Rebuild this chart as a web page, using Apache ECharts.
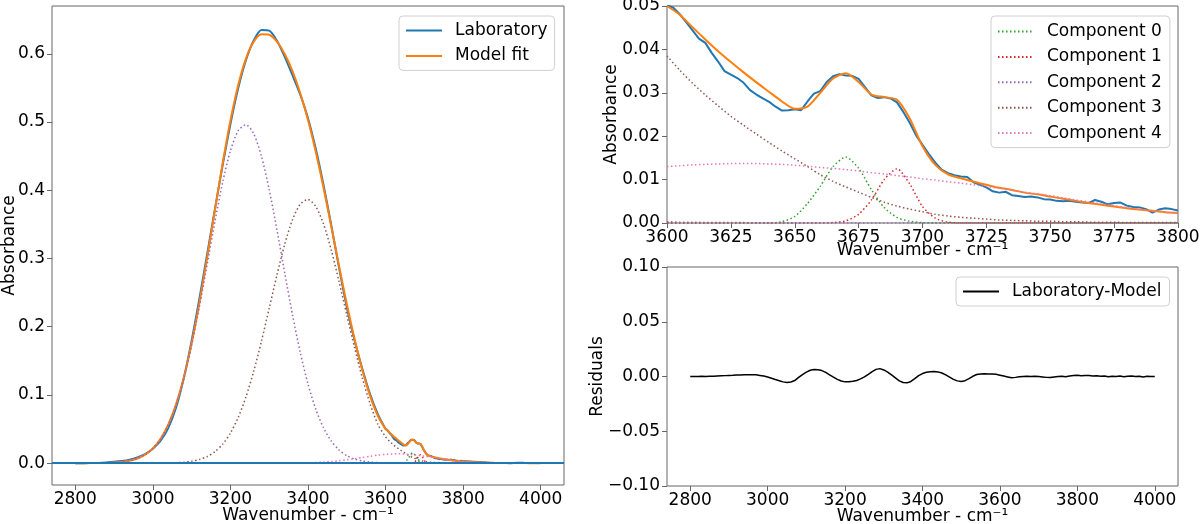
<!DOCTYPE html>
<html><head><meta charset="utf-8">
<script src="https://cdn.jsdelivr.net/npm/echarts@6/dist/echarts.min.js"></script>
<style>html,body{margin:0;padding:0;background:#fff}#c{width:1200px;height:524px}</style>
</head><body><div id="c"></div>
<script>
// ---------- wide-range data (left panel), step 20, gap 3600-3800 filled by fine data ----------
const wnWide = [2800,2820,2840,2860,2880,2900,2920,2940,2960,2980,3000,3020,3040,3060,3080,3100,3120,3140,3160,3180,3200,3220,3240,3260,3280,3300,3320,3340,3360,3380,3400,3420,3440,3460,3480,3500,3520,3540,3560,3580,3820,3840,3860,3880,3900,3920,3940,3960,3980,4000];
const labWide = [0.0000,0.0000,0.0002,0.0004,0.0010,0.0019,0.0031,0.0051,0.0085,0.0134,0.0211,0.0329,0.0519,0.0815,0.1250,0.1795,0.2410,0.3064,0.3723,0.4369,0.4971,0.5496,0.5907,0.6195,0.6350,0.6339,0.6192,0.5956,0.5686,0.5402,0.5056,0.4608,0.4079,0.3486,0.2865,0.2286,0.1800,0.1383,0.1011,0.0717,0.0026,0.0016,0.0010,0.0003,0.0003,-0.0001,0.0006,0.0004,0.0002,0.0001];
const modelWide = [0.0000,0.0000,0.0001,0.0002,0.0004,0.0009,0.0018,0.0036,0.0069,0.0124,0.0216,0.0357,0.0568,0.0865,0.1258,0.1755,0.2346,0.3010,0.3708,0.4395,0.5020,0.5540,0.5929,0.6175,0.6285,0.6279,0.6177,0.5996,0.5744,0.5422,0.5029,0.4564,0.4037,0.3471,0.2891,0.2332,0.1820,0.1365,0.0987,0.0695,0.0017,0.0012,0.0008,0.0005,0.0003,0.0002,0.0001,0.0001,0.0000,0.0000];
const comp0Wide = [0,0,0,0,0,0,0,0,0,0,0,0,0,0,0,0,0,0,0,0,0,0,0,0,0,0,0,0,0,0,0,0,0,0,0,0,0,0,0,0,0,0,0,0,0,0,0,0,0,0];
const comp1Wide = [0,0,0,0,0,0,0,0,0,0,0,0,0,0,0,0,0,0,0,0,0,0,0,0,0,0,0,0,0,0,0,0,0,0,0,0,0,0,0,0,0,0,0,0,0,0,0,0,0,0];
const comp2Wide = [0.0000,0.0000,0.0001,0.0002,0.0004,0.0009,0.0018,0.0036,0.0069,0.0124,0.0215,0.0356,0.0565,0.0858,0.1244,0.1727,0.2293,0.2913,0.3540,0.4117,0.4579,0.4872,0.4960,0.4829,0.4498,0.4009,0.3417,0.2787,0.2174,0.1623,0.1159,0.0792,0.0517,0.0323,0.0193,0.0111,0.0061,0.0032,0.0016,0.0008,0,0,0,0,0,0,0,0,0,0];
const comp3Wide = [0,0,0,0,0,0,0,0,0,0,0.0001,0.0001,0.0003,0.0007,0.0014,0.0028,0.0053,0.0097,0.0168,0.0278,0.0441,0.0668,0.0969,0.1346,0.1787,0.2270,0.2759,0.3208,0.3568,0.3796,0.3865,0.3763,0.3505,0.3124,0.2663,0.2172,0.1694,0.1250,0.0870,0.0570,0.0001,0.0001,0,0,0,0,0,0,0,0];
const comp4Wide = [0,0,0,0,0,0,0,0,0,0,0,0,0,0,0,0,0,0,0,0,0,0,0,0,0,0.0000,0.0001,0.0001,0.0002,0.0003,0.0005,0.0009,0.0015,0.0024,0.0035,0.0049,0.0065,0.0083,0.0101,0.0117,0.0016,0.0011,0.0007,0.0004,0.0002,0.0001,0,0,0,0];

// ---------- fine data 3600-3800 (zoom panel) ----------
const wnFine = [3600,3605,3610,3615,3620,3625,3630,3635,3640,3645,3650,3655,3660,3665,3670,3675,3680,3685,3690,3695,3700,3705,3710,3715,3720,3725,3730,3735,3740,3745,3750,3755,3760,3765,3770,3775,3780,3785,3790,3795,3800];
const modelFine = [0.0500,0.0480,0.0451,0.0423,0.0396,0.0371,0.0347,0.0324,0.0302,0.0280,0.0263,0.0268,0.0300,0.0333,0.0345,0.0325,0.0296,0.0290,0.0284,0.0241,0.0177,0.0134,0.0112,0.0103,0.0095,0.0088,0.0081,0.0076,0.0070,0.0066,0.0061,0.0056,0.0051,0.0046,0.0042,0.0038,0.0034,0.0031,0.0028,0.0025,0.0023];
const comp0Fine = [0,0,0,0,0,0,0,0,0.0000,0.0003,0.0015,0.0045,0.0085,0.0130,0.0152,0.0126,0.0077,0.0036,0.0013,0.0004,0.0001,0,0,0,0,0,0,0,0,0,0,0,0,0,0,0,0,0,0,0,0];
const comp1Fine = [0,0,0,0,0,0,0,0,0,0,0,0,0,0.0001,0.0005,0.0020,0.0053,0.0100,0.0125,0.0090,0.0038,0.0011,0.0002,0.0000,0,0,0,0,0,0,0,0,0,0,0,0,0,0,0,0,0];
const comp2Fine = [0.0003,0.0002,0.0002,0.0001,0.0001,0.0001,0.0001,0,0,0,0,0,0,0,0,0,0,0,0,0,0,0,0,0,0,0,0,0,0,0,0,0,0,0,0,0,0,0,0,0,0];
const comp3Fine = [0.0385,0.0352,0.0322,0.0295,0.0270,0.0246,0.0225,0.0205,0.0185,0.0166,0.0148,0.0130,0.0111,0.0096,0.0083,0.0071,0.0059,0.0048,0.0039,0.0032,0.0026,0.0020,0.0016,0.0013,0.0011,0.0009,0.0007,0.0006,0.0005,0.0004,0.0004,0.0003,0.0003,0.0002,0.0002,0.0002,0.0001,0.0001,0.0001,0.0001,0.0001];
const comp4Fine = [0.0130,0.0132,0.0134,0.0135,0.0136,0.0137,0.0137,0.0137,0.0136,0.0135,0.0133,0.0131,0.0128,0.0126,0.0123,0.0120,0.0116,0.0113,0.0109,0.0106,0.0102,0.0099,0.0095,0.0092,0.0088,0.0084,0.0080,0.0076,0.0071,0.0067,0.0063,0.0058,0.0053,0.0049,0.0044,0.0040,0.0035,0.0031,0.0028,0.0025,0.0022];
const wnLab = [3600,3602.5,3605,3607.5,3610,3612.5,3615,3617.5,3620,3622.5,3625,3627.5,3630,3632.5,3635,3637.5,3640,3642.5,3645,3647.5,3650,3652.5,3655,3657.5,3660,3662.5,3665,3667.5,3670,3672.5,3675,3677.5,3680,3682.5,3685,3687.5,3690,3692.5,3695,3697.5,3700,3702.5,3705,3707.5,3710,3712.5,3715,3717.5,3720,3722.5,3725,3727.5,3730,3732.5,3735,3737.5,3740,3742.5,3745,3747.5,3750,3752.5,3755,3757.5,3760,3762.5,3765,3767.5,3770,3772.5,3775,3777.5,3780,3782.5,3785,3787.5,3790,3792.5,3795,3797.5,3800];
const labFine = [0.0502,0.0496,0.0481,0.0463,0.0444,0.0425,0.0415,0.0392,0.0372,0.0350,0.0342,0.0334,0.0323,0.0306,0.0296,0.0287,0.0279,0.0268,0.0259,0.0260,0.0262,0.0260,0.0280,0.0298,0.0304,0.0325,0.0338,0.0343,0.0340,0.0339,0.0332,0.0313,0.0294,0.0288,0.0290,0.0287,0.0278,0.0256,0.0231,0.0202,0.0180,0.0159,0.0139,0.0123,0.0115,0.0110,0.0107,0.0106,0.0094,0.0088,0.0082,0.0073,0.0070,0.0072,0.0064,0.0062,0.0060,0.0061,0.0059,0.0055,0.0054,0.0051,0.0050,0.0051,0.0049,0.0047,0.0046,0.0053,0.0049,0.0043,0.0046,0.0047,0.0040,0.0037,0.0036,0.0032,0.0024,0.0031,0.0034,0.0032,0.0029];

// ---------- residuals ----------
const wnResid = [2800,2810,2820,2830,2840,2850,2860,2870,2880,2890,2900,2910,2920,2930,2940,2950,2960,2970,2980,2990,3000,3010,3020,3030,3040,3050,3060,3070,3080,3090,3100,3110,3120,3130,3140,3150,3160,3170,3180,3190,3200,3210,3220,3230,3240,3250,3260,3270,3280,3290,3300,3310,3320,3330,3340,3350,3360,3370,3380,3390,3400,3410,3420,3430,3440,3450,3460,3470,3480,3490,3500,3510,3520,3530,3540,3550,3560,3570,3580,3590,3600,3610,3620,3630,3640,3650,3660,3670,3680,3690,3700,3710,3720,3730,3740,3750,3760,3770,3780,3790,3800,3810,3820,3830,3840,3850,3860,3870,3880,3890,3900,3910,3920,3930,3940,3950,3960,3970,3980,3990,4000];
const resid = [0.0000,0.0001,0.0000,0.0002,0.0001,0.0003,0.0002,0.0004,0.0006,0.0008,0.0010,0.0011,0.0013,0.0014,0.0015,0.0016,0.0016,0.0015,0.0010,0.0004,-0.0005,-0.0016,-0.0028,-0.0038,-0.0049,-0.0055,-0.0050,-0.0037,-0.0008,0.0018,0.0040,0.0057,0.0064,0.0062,0.0054,0.0037,0.0015,-0.0006,-0.0026,-0.0041,-0.0049,-0.0048,-0.0044,-0.0036,-0.0022,-0.0004,0.0020,0.0045,0.0065,0.0072,0.0060,0.0040,0.0015,-0.0012,-0.0040,-0.0055,-0.0058,-0.0045,-0.0020,0.0008,0.0027,0.0038,0.0044,0.0046,0.0042,0.0032,0.0015,-0.0005,-0.0026,-0.0040,-0.0046,-0.0038,-0.0020,0.0002,0.0018,0.0023,0.0024,0.0022,0.0022,0.0020,0.0012,0.0004,-0.0004,-0.0012,-0.0008,-0.0003,0.0000,0.0002,-0.0001,0.0003,0.0000,-0.0004,-0.0008,-0.0010,-0.0004,0.0001,0.0003,-0.0002,0.0005,0.0010,0.0012,0.0006,0.0009,0.0010,0.0004,0.0007,0.0002,0.0005,-0.0002,0.0003,0.0000,0.0004,-0.0003,0.0002,0.0005,-0.0001,0.0003,-0.0004,0.0002,-0.0001,0.0001];

// ---------- ticks ----------
const xTicksWide = [2800,3000,3200,3400,3600,3800,4000];
const yTicksLeft = [0,0.1,0.2,0.3,0.4,0.5,0.6];

const seriesNames = ['Laboratory','Model fit','Component 0','Component 1','Component 2','Component 3','Component 4'];
const colors = ['#1f77b4','#ff7f0e','#2ca02c','#d62728','#9467bd','#8c564b','#e377c2'];

function pairs(xs, ys){ return xs.map((x,i)=>[x, ys[i]]); }
function mergeLeft(wideY, fx, fy){
  const out = [];
  wnWide.forEach((x,i)=>{ if (x < 3600) out.push([x, wideY[i]]); });
  fx.forEach((x,i)=>out.push([x, fy[i]]));
  wnWide.forEach((x,i)=>{ if (x > 3800) out.push([x, wideY[i]]); });
  return out;
}

const FONT = 'DejaVu Sans';
const SPINE = '#666';
const FS = 17;

function solid(name, idx, data, xi, extra){
  return Object.assign({
    name, type:'line', xAxisIndex:xi, yAxisIndex:xi, data, showSymbol:false, symbol:'none',
    color: colors[idx], lineStyle:{color:colors[idx], width:2}, smooth:0.25, animation:false, silent:true
  }, extra||{});
}
function dotted(name, idx, data, xi){
  return {
    name, type:'line', xAxisIndex:xi, yAxisIndex:xi, data, showSymbol:false, symbol:'none',
    color: colors[idx], lineStyle:{color:colors[idx], width:1.5, type:[1.5,2.5]}, smooth:0.25, animation:false, silent:true
  };
}

const wideComps = [comp0Wide, comp1Wide, comp2Wide, comp3Wide, comp4Wide];
const fineComps = [comp0Fine, comp1Fine, comp2Fine, comp3Fine, comp4Fine];

const series = [];
// left panel
series.push(solid('Laboratory', 0, mergeLeft(labWide, wnLab, labFine), 0, {
  markLine:{silent:true, symbol:['none','none'], animation:false, label:{show:false},
    lineStyle:{color:colors[0], width:1.8, type:'solid'}, data:[{yAxis:0}]}
}));
series.push(solid('Model fit', 1, mergeLeft(modelWide, wnFine, modelFine), 0));
for (let k=0;k<5;k++) series.push(dotted(seriesNames[k+2], k+2, mergeLeft(wideComps[k], wnFine, fineComps[k]), 0));
// top-right panel
series.push(solid('Laboratory', 0, pairs(wnLab, labFine), 1, {smooth:false}));
series.push(solid('Model fit', 1, pairs(wnFine, modelFine), 1));
for (let k=0;k<5;k++) series.push(dotted(seriesNames[k+2], k+2, pairs(wnFine, fineComps[k]), 1));
// residuals
series.push({name:'Laboratory-Model', type:'line', xAxisIndex:2, yAxisIndex:2, data:pairs(wnResid, resid),
  showSymbol:false, symbol:'none', color:'#000', lineStyle:{color:'#000', width:1.5}, animation:false, silent:true});

const txt = {color:'#000', fontSize:FS, fontFamily:FONT};
const plain = v => String(Math.round(v));
function tickCfg(custom){
  const t = {show:true, inside:false, length:5, lineStyle:{color:SPINE, width:1}};
  if (custom) t.customValues = custom;
  return t;
}
function xAxisCfg(gi, min, max, extra){
  return Object.assign({
    type:'value', gridIndex:gi, min, max,
    name:'Wavenumber - cm\u207B\u00B9', nameLocation:'middle', nameGap:22, nameMoveOverlap:false,
    nameTextStyle:Object.assign({}, txt),
    axisLine:{show:false, onZero:false}, splitLine:{show:false},
    axisTick:tickCfg(null),
    axisLabel:Object.assign({margin:6, formatter:plain}, txt)
  }, extra);
}
function yAxisCfg(gi, min, max, name, gap, fmt, extra){
  return Object.assign({
    type:'value', gridIndex:gi, min, max, name, nameLocation:'middle', nameGap:gap, nameRotate:90, nameMoveOverlap:false,
    nameTextStyle:Object.assign({}, txt),
    axisLine:{show:false, onZero:false}, splitLine:{show:false},
    axisTick:tickCfg(null),
    axisLabel:Object.assign({margin:7, formatter:fmt}, txt)
  }, extra);
}

const legendBase = {
  orient:'vertical', selectedMode:false, backgroundColor:'#fff', borderColor:'#d0d0d0', borderWidth:1, borderRadius:4,
  itemWidth:36, itemHeight:14, itemGap:8.4,
  itemStyle:{opacity:0},
  textStyle:{color:'#000', fontSize:FS, fontFamily:FONT, lineHeight:17, padding:[0,0,0,8]}
};

const gridBase = {show:true, borderColor:SPINE, borderWidth:1, backgroundColor:'rgba(0,0,0,0)', containLabel:false, outerBoundsMode:'none'};

const option = {
  animation:false,
  textStyle:{fontFamily:FONT},
  grid:[
    Object.assign({left:52, top:6, width:512, height:479}, gridBase),
    Object.assign({left:667, top:6, width:511, height:217}, gridBase),
    Object.assign({left:667, top:267, width:511, height:219}, gridBase)
  ],
  xAxis:[
    xAxisCfg(0, 2740, 4060, {axisTick:tickCfg(xTicksWide),
      axisLabel:Object.assign({margin:6, customValues:xTicksWide, formatter:plain}, txt)}),
    xAxisCfg(1, 3600, 3800, {interval:25, nameGap:19}),
    xAxisCfg(2, 2740, 4060, {axisTick:tickCfg(xTicksWide),
      axisLabel:Object.assign({margin:6, customValues:xTicksWide, formatter:plain}, txt)})
  ],
  yAxis:[
    yAxisCfg(0, -0.032, 0.670, 'Absorbance', 34, v=>v.toFixed(1),
      {axisTick:tickCfg(yTicksLeft),
       axisLabel:Object.assign({margin:7, customValues:yTicksLeft, formatter:v=>v.toFixed(1)}, txt)}),
    yAxisCfg(1, 0, 0.05, 'Absorbance', 47, v=>v.toFixed(2), {interval:0.01}),
    yAxisCfg(2, -0.1, 0.1, 'Residuals', 61, v=>(v < -1e-9 ? '\u2212' : '') + Math.abs(v).toFixed(2), {interval:0.05})
  ],
  legend:[
    Object.assign({}, legendBase, {left:399, top:16, padding:[6,7,6,6], data:['Laboratory','Model fit']}),
    Object.assign({}, legendBase, {left:991, top:16, padding:[7,8,6,6], data:['Component 0','Component 1','Component 2','Component 3','Component 4']}),
    Object.assign({}, legendBase, {left:956, top:277, padding:[6,8,6,6], data:['Laboratory-Model']})
  ],
  series
};

const chart = echarts.init(document.getElementById('c'), null, {renderer:'canvas'});
chart.setOption(option);
</script>
</body></html>
